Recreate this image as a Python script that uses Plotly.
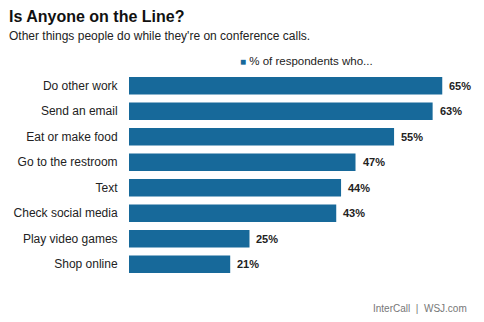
import plotly.graph_objects as go

# Survey results: share of respondents doing each activity on conference calls
activities = [
    "Do other work",
    "Send an email",
    "Eat or make food",
    "Go to the restroom",
    "Text",
    "Check social media",
    "Play video games",
    "Shop online",
]
percents = [65, 63, 55, 47, 44, 43, 25, 21]

BAR_COLOR = "#17699a"
FONT = "Liberation Sans, Arial, sans-serif"

fig = go.Figure(
    go.Bar(
        x=percents,
        y=activities,
        orientation="h",
        marker=dict(color=BAR_COLOR, line=dict(width=0)),
        showlegend=False,
        hoverinfo="skip",
    )
)

# Value labels just past the end of each bar
for act, val in zip(activities, percents):
    fig.add_annotation(
        x=val, y=act, xref="x", yref="y",
        text=f"<b>{val}%</b>", showarrow=False,
        xanchor="left", xshift=5,
        font=dict(family=FONT, size=11, color="#222222"),
    )

# Title, subtitle, legend key and source line
fig.add_annotation(
    x=7, y=322 - 27, xref="paper", yref="paper", text="<b>Is Anyone on the Line?</b>",
    showarrow=False, xanchor="left", yanchor="bottom",
    font=dict(family=FONT, size=16, color="#111111"),
)
fig.add_annotation(
    x=7, y=322 - 45, xref="paper", yref="paper",
    text="Other things people do while they're on conference calls.",
    showarrow=False, xanchor="left", yanchor="bottom",
    font=dict(family=FONT, size=12, color="#222222"),
)
fig.add_annotation(
    x=238, y=322 - 69, xref="paper", yref="paper",
    text=f"<span style='color:{BAR_COLOR};font-size:10px'>■</span> % of respondents who...",
    showarrow=False, xanchor="left", yanchor="bottom",
    font=dict(family=FONT, size=11.5, color="#222222"),
)
fig.add_annotation(
    x=469, y=322 - 316, xref="paper", yref="paper",
    text="InterCall  |  WSJ.com",
    showarrow=False, xanchor="right", yanchor="bottom",
    font=dict(family=FONT, size=10, color="#777777"),
)

fig.update_layout(
    width=484,
    height=322,
    margin=dict(l=129, r=8, t=73, b=45),
    paper_bgcolor="white",
    plot_bgcolor="white",
    bargap=0.31,
    font=dict(family=FONT),
    xaxis=dict(range=[0, 72], visible=False, fixedrange=True),
    yaxis=dict(
        autorange="reversed",
        showgrid=False, zeroline=False, showline=False,
        ticks="outside", ticklen=8, tickcolor="rgba(0,0,0,0)",
        tickfont=dict(family=FONT, size=12, color="#222222"),
        fixedrange=True,
    ),
)

# Paper-coordinate annotations above were given in pixels; convert to fractions
plot_h = 322 - 73 - 45
plot_w = 484 - 129 - 8
for ann in fig.layout.annotations:
    if ann.xref == "paper":
        ann.x = (ann.x - 129) / plot_w
        ann.y = (ann.y - 45) / plot_h

fig.write_html("out.html")
